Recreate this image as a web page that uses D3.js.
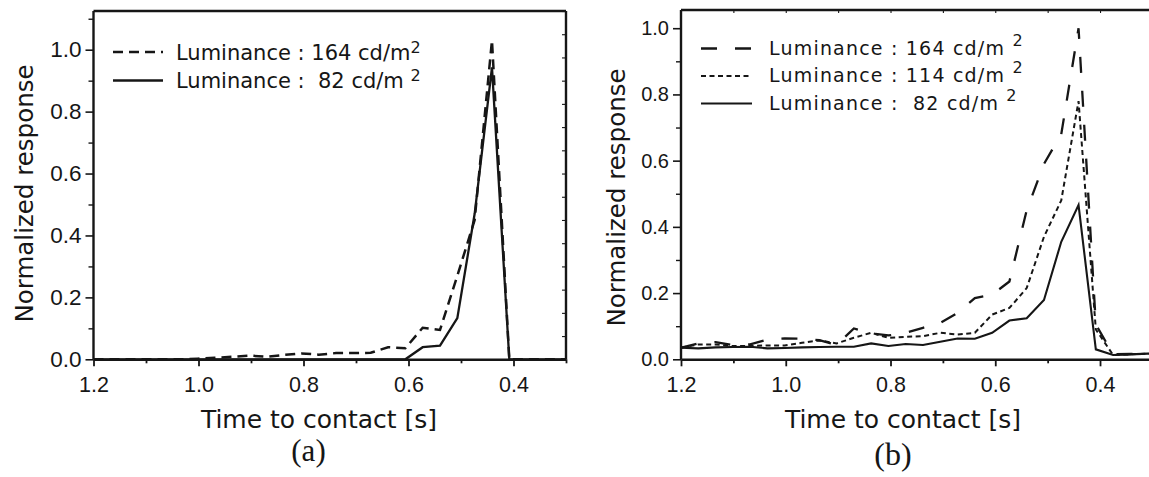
<!DOCTYPE html>
<html>
<head>
<meta charset="utf-8">
<script src="https://cdn.jsdelivr.net/npm/d3@7"></script>
<style>
  body { margin: 0; background: #fff; }
  svg text { white-space: pre; fill: #161616; }
  .tick line, .domain { stroke: #161616; }
</style>
</head>
<body>
<svg id="chart" width="1149" height="477"></svg>
<script>
// Time to contact of each sample (s)
const times = [1.2, 1.167, 1.134, 1.101, 1.068, 1.035, 1.002, 0.969, 0.936, 0.903,
  0.87, 0.837, 0.804, 0.771, 0.738, 0.705, 0.672, 0.639, 0.606, 0.573,
  0.54, 0.507, 0.474, 0.441, 0.408, 0.375, 0.342, 0.309, 0.276];

// (a) normalized responses
const respA164 = [0, 0, 0, 0, 0, 0, 0.002, 0.005, 0.008, 0.012,
  0.008, 0.014, 0.019, 0.015, 0.02, 0.02, 0.021, 0.039, 0.036, 0.102,
  0.095, 0.27, 0.45, 1.03, 0, 0, 0, 0, 0];
const respA82 = [0, 0, 0, 0, 0, 0, 0, 0, 0, 0,
  0, 0, 0, 0, 0, 0, 0, 0, 0, 0.039,
  0.044, 0.133, 0.47, 0.943, 0, 0, 0, 0, 0];

// (b) normalized responses
const respB164 = [0.035, 0.048, 0.052, 0.043, 0.045, 0.06, 0.063, 0.062, 0.058, 0.043,
  0.093, 0.078, 0.072, 0.08, 0.095, 0.11, 0.14, 0.185, 0.195, 0.235,
  0.45, 0.59, 0.68, 1.0, 0.105, 0.015, 0.016, 0.018, 0.018];
const respB114 = [0.035, 0.045, 0.045, 0.04, 0.04, 0.042, 0.042, 0.05, 0.057, 0.048,
  0.065, 0.08, 0.065, 0.068, 0.07, 0.08, 0.075, 0.08, 0.135, 0.155,
  0.215, 0.37, 0.48, 0.78, 0.09, 0.013, 0.015, 0.017, 0.018];
const respB82 = [0.035, 0.033, 0.036, 0.037, 0.038, 0.033, 0.034, 0.036, 0.037, 0.038,
  0.038, 0.048, 0.04, 0.046, 0.043, 0.053, 0.063, 0.062, 0.08, 0.117,
  0.124, 0.179, 0.355, 0.466, 0.03, 0.013, 0.015, 0.017, 0.018];

// Axis ticks
const xMajorTicks = [1.2, 1.0, 0.8, 0.6, 0.4];
const xMinorTicks = [1.1, 0.9, 0.7, 0.5, 0.3];
const xFrameTicks = [1.1, 1.0, 0.9, 0.8, 0.7, 0.6, 0.5, 0.4, 0.3];
const yMajorTicks = [0, 0.2, 0.4, 0.6, 0.8, 1.0];
const yMinorTicksA = [0.1, 0.3, 0.5, 0.7, 0.9, 1.1];
const yMinorTicksB = [0.1, 0.3, 0.5, 0.7, 0.9];
const rightTicksA = d3.range(0, 16);

// Legend entries
const legendA = [
  { label: "Luminance : 164 cd/m", sup: "2" },
  { label: "Luminance :  82 cd/m ", sup: "2" }
];
const legendB = [
  { label: "Luminance : 164 cd/m ", sup: "2" },
  { label: "Luminance : 114 cd/m ", sup: "2" },
  { label: "Luminance :  82 cd/m ", sup: "2" }
];

const svg = d3.select("#chart");
const tickFont = "'Liberation Sans', Arial, sans-serif";
const textFont = "'DejaVu Sans', sans-serif";
const ink = "#161616";

function drawPanel(cfg) {
  const g = svg.append("g");
  const x = d3.scaleLinear().domain([1.2, 0.3]).range([cfg.left, cfg.right]);
  const y = d3.scaleLinear().domain([0, cfg.yMax]).range([cfg.bottom, cfg.top]);

  const clipId = "clip-" + cfg.id;
  g.append("clipPath").attr("id", clipId)
    .append("rect")
    .attr("x", cfg.left).attr("y", cfg.top - 2)
    .attr("width", cfg.right - cfg.left).attr("height", cfg.bottom - cfg.top + 4);

  // data lines
  const line = d3.line().x((d, i) => x(times[i])).y(d => y(d));
  const plot = g.append("g").attr("clip-path", `url(#${clipId})`);
  cfg.series.forEach(s => {
    plot.append("path")
      .datum(s.values)
      .attr("fill", "none")
      .attr("stroke", ink)
      .attr("stroke-width", s.width)
      .attr("stroke-dasharray", s.dash)
      .attr("stroke-linejoin", "miter")
      .attr("d", line);
  });

  // frame: top and right borders
  g.append("line").attr("x1", x(1.2)).attr("x2", x(0.3))
    .attr("y1", y(cfg.yMax)).attr("y2", y(cfg.yMax))
    .attr("stroke", ink).attr("stroke-width", 2.4);
  g.append("line").attr("x1", x(0.3)).attr("x2", x(0.3))
    .attr("y1", y(0)).attr("y2", y(cfg.yMax))
    .attr("stroke", ink).attr("stroke-width", 2.4);

  // bottom axis
  const xa = g.append("g").attr("transform", `translate(0,${y(0)})`)
    .call(d3.axisBottom(x).tickValues(xMajorTicks).tickSize(7).tickPadding(10)
      .tickSizeOuter(0).tickFormat(d3.format(".1f")));
  xa.select(".domain").attr("stroke-width", 2.4);
  xa.selectAll(".tick line").attr("stroke-width", 1.8);
  xa.selectAll("text").attr("font-family", tickFont).attr("font-size", cfg.xTickSize)
    .attr("fill", ink);
  const xm = g.append("g").attr("transform", `translate(0,${y(0)})`)
    .call(d3.axisBottom(x).tickValues(xMinorTicks).tickSize(4).tickFormat(""));
  xm.select(".domain").remove();
  xm.selectAll(".tick line").attr("stroke-width", 1.8);

  // left axis
  const ya = g.append("g").attr("transform", `translate(${x(1.2)},0)`)
    .call(d3.axisLeft(y).tickValues(yMajorTicks).tickSize(8).tickPadding(4)
      .tickSizeOuter(0).tickFormat(d3.format(".1f")));
  ya.select(".domain").attr("d", `M0,${y(0)}V${y(cfg.yMax)}`).attr("stroke-width", 2.4);
  ya.selectAll(".tick line").attr("stroke-width", 1.6);
  ya.selectAll("text").attr("font-family", tickFont).attr("font-size", cfg.yTickSize)
    .attr("fill", ink);
  const ym = g.append("g").attr("transform", `translate(${x(1.2)},0)`)
    .call(d3.axisLeft(y).tickValues(cfg.yMinor).tickSize(5).tickFormat(""));
  ym.select(".domain").remove();
  ym.selectAll(".tick line").attr("stroke-width", 1.4);

  // inner ticks on the frame
  if (cfg.rightTicks) {
    const r = d3.scaleLinear().domain([0, 15]).range([y(0), y(cfg.yMax)]);
    const ra = g.append("g").attr("transform", `translate(${x(0.3)},0)`)
      .call(d3.axisLeft(r).tickValues(cfg.rightTicks).tickSize(4).tickFormat(""));
    ra.select(".domain").remove();
    ra.selectAll(".tick line").attr("stroke-width", 1.1);
  }
  if (cfg.topTicks) {
    const ta = g.append("g").attr("transform", `translate(0,${y(cfg.yMax)})`)
      .call(d3.axisBottom(x).tickValues(cfg.topTicks).tickSize(3).tickFormat(""));
    ta.select(".domain").remove();
    ta.selectAll(".tick line").attr("stroke-width", 1.1);
  }

  // axis titles
  g.append("text")
    .attr("transform", `translate(${cfg.yTitleX},${cfg.yTitleY}) rotate(-90)`)
    .attr("text-anchor", "middle")
    .attr("font-family", textFont).attr("font-size", 24.5)
    .text("Normalized response");
  g.append("text")
    .attr("x", cfg.xTitleX).attr("y", 428)
    .attr("text-anchor", "middle")
    .attr("font-family", textFont).attr("font-size", 25)
    .text("Time to contact [s]");
  g.append("text")
    .attr("x", cfg.tagX).attr("y", cfg.tagY)
    .attr("text-anchor", "middle")
    .attr("font-family", "'Liberation Serif', 'Times New Roman', serif")
    .attr("font-size", cfg.tagSize)
    .text(cfg.tag);

  // legend
  cfg.legend.forEach((item, i) => {
    const s = cfg.series[i];
    const cy = cfg.legendY + i * cfg.legendStep;
    g.append("line")
      .attr("x1", cfg.legendX).attr("x2", cfg.legendX + cfg.legendLen)
      .attr("y1", cy).attr("y2", cy)
      .attr("stroke", ink).attr("stroke-width", s.width)
      .attr("stroke-dasharray", s.dash);
    const t = g.append("text")
      .attr("x", cfg.legendTextX).attr("y", cy + cfg.legendBase)
      .attr("font-family", textFont).attr("font-size", cfg.legendSize)
      .attr("letter-spacing", cfg.legendSpacing);
    t.append("tspan").text(item.label);
    t.append("tspan").attr("font-size", 16).attr("dy", -cfg.supRaise).text(item.sup);
  });
}

drawPanel({
  id: "a", left: 93.5, right: 566, top: 11, bottom: 359.3, yMax: 1.125,
  yMinor: yMinorTicksA, rightTicks: rightTicksA, topTicks: null,
  xTickSize: 21.5, yTickSize: 22.5,
  series: [
    { values: respA164, dash: "10,6", width: 2.5 },
    { values: respA82, dash: null, width: 2.3 }
  ],
  legend: legendA, legendX: 113, legendLen: 50, legendTextX: 176,
  legendY: 52, legendStep: 28.5, legendBase: 7.5, legendSize: 21, legendSpacing: 0,
  supRaise: 7,
  yTitleX: 33, yTitleY: 193.5, xTitleX: 319,
  tag: "(a)", tagX: 308.5, tagY: 461, tagSize: 31
});

drawPanel({
  id: "b", left: 681, right: 1152.4, top: 10, bottom: 359.3, yMax: 1.055,
  yMinor: yMinorTicksB, rightTicks: null, topTicks: xFrameTicks,
  xTickSize: 21.5, yTickSize: 20,
  series: [
    { values: respB164, dash: "16,18", width: 2.3 },
    { values: respB114, dash: "5,3.5", width: 2 },
    { values: respB82, dash: null, width: 2.1 }
  ],
  legend: legendB, legendX: 701, legendLen: 51, legendTextX: 769,
  legendY: 48.5, legendStep: 27.5, legendBase: 6, legendSize: 19, legendSpacing: 1.2,
  supRaise: 9,
  yTitleX: 625, yTitleY: 197.5, xTitleX: 903,
  tag: "(b)", tagX: 893, tagY: 465, tagSize: 32
});
</script>
</body>
</html>
